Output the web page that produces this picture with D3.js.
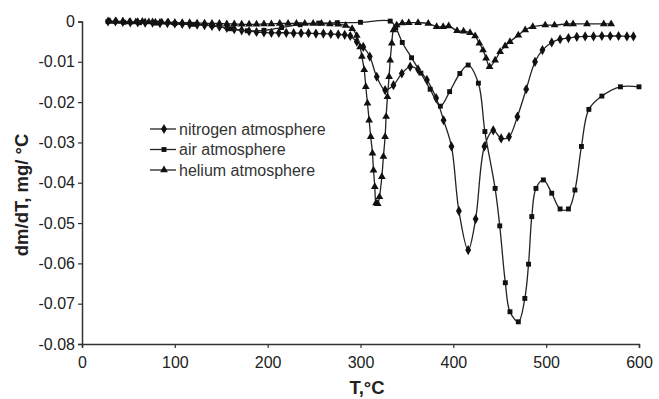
<!DOCTYPE html>
<meta charset="utf-8">
<style>
body { margin: 0; background: #fff; }
#thevis { font-family: "Liberation Sans", Arial, sans-serif; }
</style>

<svg id="thevis" width="659" height="399"></svg>
<script src="https://cdn.jsdelivr.net/npm/d3@7"></script>

<script>
// DTG curves, three atmospheres
var nitroT = [28, 36, 44, 52, 60, 68, 76, 84, 92, 100, 108, 116, 124, 132, 140, 148, 156, 164, 172, 180, 188, 196, 204, 212, 220, 228, 236, 244, 252, 260, 268, 276, 283, 289, 296, 303, 310, 317.5, 326.5, 335.5, 344.5, 353.5, 362, 371.5, 381.5, 389.5, 398, 406, 416, 424, 433.5, 443, 451.5, 460, 469, 478.5, 488, 496, 506, 515, 524, 533, 542, 551, 560, 569, 578, 587, 594];
var nitroY = [0, 0, -0.0001, -0.0002, -0.0002, -0.0003, -0.0003, -0.0004, -0.0004, -0.0005, -0.0006, -0.0007, -0.0008, -0.0009, -0.0011, -0.0013, -0.0016, -0.0019, -0.0022, -0.0024, -0.0026, -0.0027, -0.0028, -0.0028, -0.0028, -0.0029, -0.0029, -0.0029, -0.0030, -0.0030, -0.0031, -0.0032, -0.0033, -0.0036, -0.0050, -0.0063, -0.0087, -0.0137, -0.0170, -0.0158, -0.0129, -0.0112, -0.0119, -0.0145, -0.0190, -0.0245, -0.0310, -0.0470, -0.0567, -0.0490, -0.0310, -0.0270, -0.0290, -0.0286, -0.0236, -0.0168, -0.0100, -0.0071, -0.0052, -0.0044, -0.0041, -0.0038, -0.0037, -0.0037, -0.0036, -0.0036, -0.0036, -0.0037, -0.0037];

var airT = [28, 45, 62, 80, 100, 120, 140, 160, 178, 196, 215, 235, 255, 275, 300, 332, 338, 345, 355, 365, 375, 386, 396, 407, 416, 427, 434, 445, 450, 456, 461, 470, 477, 481, 484.5, 489, 497, 506, 515, 524, 531, 538, 546, 560, 580, 600];
var airY = [0, -0.0002, -0.0003, -0.0004, -0.0005, -0.0007, -0.0010, -0.0018, -0.0023, -0.0022, -0.0015, -0.0008, -0.0004, -0.0003, -0.0002, 0.0001, -0.0015, -0.0052, -0.0090, -0.0128, -0.0168, -0.0210, -0.0174, -0.0129, -0.0108, -0.0153, -0.0273, -0.0414, -0.0507, -0.0648, -0.0720, -0.0745, -0.0687, -0.0602, -0.0484, -0.0414, -0.0393, -0.0426, -0.0465, -0.0465, -0.0418, -0.0310, -0.0218, -0.0185, -0.0162, -0.0162];

var heT = [30, 37, 44, 51, 58, 65, 72, 79, 86, 93, 100, 108, 116, 124, 132, 140, 148, 156, 164, 172, 180, 188, 196, 204, 213, 222, 231, 240, 249, 258, 267, 276, 284, 291, 296, 299.6, 301.5, 304, 305.7, 307.5, 309.3, 311, 312.9, 314, 315.4, 316.8, 318.5, 320.4, 323, 324.7, 326.5, 327.6, 329, 330.8, 332, 333.7, 335.5, 339, 345, 352, 362, 373, 382, 389, 395, 404, 411, 418, 423.5, 428, 432, 435.3, 439, 445, 450.4, 455.8, 461, 470, 477.4, 485.6, 499, 509, 522, 529, 544, 562, 570];
var heY = [0, 0, 0, -0.0001, -0.0001, 0, -0.0001, -0.0002, -0.0002, -0.0002, -0.0003, -0.0003, -0.0003, -0.0004, -0.0004, -0.0005, -0.0005, -0.0006, -0.0006, -0.0007, -0.0007, -0.0007, -0.0006, -0.0006, -0.0005, -0.0005, -0.0005, -0.0005, -0.0005, -0.0005, -0.0006, -0.0007, -0.0010, -0.0018, -0.0035, -0.0063, -0.0087, -0.0120, -0.0162, -0.0203, -0.0245, -0.0286, -0.0327, -0.0369, -0.0410, -0.0450, -0.0452, -0.0435, -0.0385, -0.0335, -0.0286, -0.0236, -0.0187, -0.0137, -0.0096, -0.0054, -0.0021, -0.0009, -0.0004, -0.0003, -0.0003, -0.0005, -0.0013, -0.0013, -0.0011, -0.0023, -0.0024, -0.0028, -0.0036, -0.0054, -0.0071, -0.0091, -0.0112, -0.0096, -0.0075, -0.0061, -0.0050, -0.0034, -0.0021, -0.0013, -0.0009, -0.0009, -0.0006, -0.0006, -0.0006, -0.0006, -0.0006];

var seriesNames = ["nitrogen atmosphere", "air atmosphere", "helium atmosphere"];
var xTicks = [0, 100, 200, 300, 400, 500, 600];
var yTicks = [0, -0.01, -0.02, -0.03, -0.04, -0.05, -0.06, -0.07, -0.08];

var svg = d3.select("svg");
var ink = "#222";

var x = d3.scaleLinear().domain([0, 600]).range([82, 639]);
var y = d3.scaleLinear().domain([-0.08, 0]).range([344, 21.5]);

function zip(ts, vs) { return ts.map(function(t, i) { return {t: t, v: vs[i]}; }); }

var series = [
  {name: seriesNames[0], data: zip(nitroT, nitroY), sym: d3.symbolDiamond, size: 30},
  {name: seriesNames[1], data: zip(airT, airY), sym: d3.symbolSquare, size: 24},
  {name: seriesNames[2], data: zip(heT, heY), sym: d3.symbolTriangle, size: 26}
];

// axes
var xAxis = svg.append("g")
    .attr("transform", "translate(0,344)")
    .call(d3.axisBottom(x).tickValues(xTicks).tickSize(4).tickPadding(9).tickFormat(d3.format("d")));
var yAxis = svg.append("g")
    .attr("transform", "translate(82,0)")
    .call(d3.axisLeft(y).tickValues(yTicks).tickSize(4).tickPadding(3)
      .tickFormat(function(d) { return d === 0 ? "0" : d.toFixed(2); }));

[xAxis, yAxis].forEach(function(a) {
  a.select(".domain").attr("stroke", "#333").attr("stroke-width", 1.5);
  a.selectAll(".tick line").attr("stroke", "#333").attr("stroke-width", 1.2);
  a.selectAll(".tick text").attr("fill", ink).attr("font-size", 16)
    .attr("font-family", "'Liberation Sans', Arial, sans-serif");
});

// axis titles
svg.append("text")
    .attr("x", 367).attr("y", 394)
    .attr("text-anchor", "middle")
    .attr("font-size", 18.5).attr("font-weight", "bold").attr("fill", ink)
    .text("T,°C");
svg.append("text")
    .attr("transform", "translate(28,195) rotate(-90)")
    .attr("text-anchor", "middle")
    .attr("font-size", 18.5).attr("font-weight", "bold").attr("fill", ink)
    .text("dm/dT, mg/ °C");

var line = d3.line()
    .x(function(d) { return x(d.t); })
    .y(function(d) { return y(d.v); })
    .curve(d3.curveCatmullRom.alpha(0.5));

var plots = svg.append("g").selectAll("g")
  .data(series)
  .enter().append("g");

plots.append("path")
    .attr("d", function(s) { return line(s.data); })
    .attr("fill", "none")
    .attr("stroke", ink)
    .attr("stroke-width", 1.3);

plots.each(function(s) {
  d3.select(this).selectAll("path.m")
    .data(s.data)
    .enter().append("path")
      .attr("class", "m")
      .attr("transform", function(d) { return "translate(" + x(d.t) + "," + y(d.v) + ")"; })
      .attr("d", d3.symbol().type(s.sym).size(s.size))
      .attr("fill", "#111");
});

// legend
var legend = svg.append("g")
  .selectAll("g")
  .data(series)
  .enter().append("g")
    .attr("transform", function(d, i) { return "translate(0," + (129 + i * 20.5) + ")"; });

legend.append("line")
    .attr("x1", 150).attr("x2", 176)
    .attr("stroke", ink).attr("stroke-width", 1.3);
legend.append("path")
    .attr("transform", "translate(164,0)")
    .attr("d", function(s) { return d3.symbol().type(s.sym).size(s.size)(); })
    .attr("fill", "#111");
legend.append("text")
    .attr("x", 179).attr("y", 5.5)
    .attr("font-size", 16).attr("fill", "#333")
    .text(function(s) { return s.name; });
</script>
